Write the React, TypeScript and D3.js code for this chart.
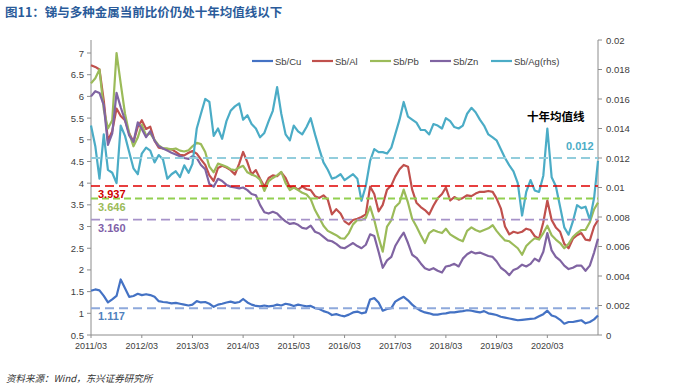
import React from "react";
import * as d3 from "d3";

const W = 700;
const H = 392;
const M = { left: 91, right: 598, top: 40, bottom: 335 };

// 月度读数, 2011/03 起
const startMonth = new Date(2011, 2, 1);

const sbCu = [
	1.52, 1.55, 1.53, 1.4, 1.25, 1.32, 1.4, 1.78, 1.58, 1.38, 1.4, 1.45, 1.42, 1.44, 1.42, 1.38, 1.28, 1.26, 1.25, 1.23,
	1.24, 1.22, 1.2, 1.18, 1.2, 1.28, 1.25, 1.26, 1.22, 1.15, 1.2, 1.22, 1.25, 1.27, 1.24, 1.26, 1.33, 1.25, 1.2, 1.17,
	1.16, 1.18, 1.16, 1.17, 1.2, 1.18, 1.22, 1.2, 1.17, 1.2, 1.18, 1.16, 1.17, 1.12, 1.1, 1.05, 1.02, 0.96, 0.98, 0.95,
	0.93, 0.97, 1.02, 1.04, 1.0, 1.02, 1.32, 1.35, 1.25, 1.06, 1.1, 1.12, 1.27, 1.33, 1.38, 1.3, 1.2, 1.12, 1.06, 1.02,
	1.0, 0.97, 0.97, 0.99, 1.0, 1.02, 1.02, 1.04, 1.05, 1.07, 1.06, 1.04, 1.02, 1.05, 1.0, 0.98, 0.96, 0.92, 0.9, 0.88,
	0.86, 0.84, 0.85, 0.86, 0.87, 0.88, 0.93, 0.98, 1.06, 0.95, 0.92, 0.85, 0.76, 0.8, 0.8, 0.82, 0.84, 0.77, 0.8, 0.86,
	0.95,
];

const sbAl = [
	6.72, 6.68, 6.62, 5.9, 4.98, 5.2, 5.72, 5.55, 5.45, 5.15, 4.95, 5.3, 5.45, 5.25, 5.3, 4.98, 4.82, 4.8, 4.78, 4.78,
	4.72, 4.65, 4.64, 4.7, 4.74, 4.68, 4.55, 4.42, 4.18, 4.05, 4.35, 4.4, 4.36, 4.3, 4.2, 4.45, 4.72, 4.48, 4.2, 4.3,
	4.1, 3.92, 4.12, 4.18, 4.16, 4.25, 4.12, 3.9, 3.92, 3.85, 3.92, 3.86, 3.84, 3.7, 3.66, 3.72, 3.62, 3.28, 3.4, 3.3,
	3.12, 3.05, 3.15, 3.18, 3.22, 3.28, 3.92, 3.75, 3.35, 3.5, 3.85, 3.95, 4.15, 4.32, 4.42, 4.38, 3.85, 3.55, 3.45, 3.38,
	3.28, 3.48, 3.65, 3.75, 3.9, 3.6, 3.68, 3.62, 3.66, 3.72, 3.7, 3.76, 3.8, 3.8, 3.82, 3.8, 3.65, 3.42, 3.0, 2.82,
	2.88, 2.85, 2.88, 2.95, 2.92, 2.78, 2.72, 3.1, 3.6, 3.15, 2.98, 2.88, 2.6, 2.5, 2.72, 2.8, 2.85, 2.7, 2.68, 3.0,
	3.15,
];

const sbPb = [
	6.3, 6.42, 6.62, 5.7, 5.26, 5.45, 7.0, 6.3, 5.6, 5.15, 4.85, 5.05, 5.35, 5.1, 5.15, 5.0, 4.87, 4.8, 4.8, 4.78,
	4.8, 4.75, 4.73, 4.76, 4.85, 4.93, 4.9, 4.72, 4.38, 4.25, 4.45, 4.42, 4.38, 4.32, 4.3, 4.36, 4.4, 4.25, 4.2, 4.16,
	4.08, 3.82, 4.05, 4.12, 4.18, 4.26, 4.0, 3.84, 3.9, 3.84, 3.78, 3.74, 3.63, 3.38, 3.2, 3.02, 2.9, 2.85, 2.8, 2.73,
	2.72, 2.85, 3.05, 3.15, 3.15, 3.2, 3.46, 3.15, 2.75, 2.42, 3.0, 3.15, 3.45, 3.55, 3.85, 3.55, 3.18, 3.0, 2.8, 2.62,
	2.85, 2.92, 2.88, 2.85, 2.95, 2.82, 2.76, 2.7, 2.66, 2.9, 2.98, 2.92, 2.88, 2.92, 2.96, 3.03, 2.9, 2.78, 2.68, 2.66,
	2.58, 2.5, 2.35, 2.55, 2.65, 2.73, 2.7, 2.85, 3.02, 2.8, 2.7, 2.62, 2.5, 2.6, 2.76, 2.85, 2.92, 2.92, 3.1, 3.4,
	3.55,
];

const sbZn = [
	6.0, 6.12, 6.08, 5.8, 4.88, 5.15, 6.08, 5.75, 5.45, 5.1, 4.95, 5.4, 5.25, 5.06, 5.2, 4.98, 4.85, 4.8, 4.75, 4.7,
	4.66, 4.62, 4.58, 4.56, 4.62, 4.58, 4.42, 4.32, 3.98, 3.92, 4.1, 4.05, 3.96, 3.92, 3.9, 3.88, 3.9, 3.84, 3.75, 3.72,
	3.5, 3.33, 3.3, 3.34, 3.3, 3.2, 3.12, 3.06, 3.08, 3.04, 2.97, 2.95, 3.02, 2.88, 2.84, 2.76, 2.68, 2.66, 2.6, 2.52,
	2.5, 2.56, 2.62, 2.55, 2.5, 2.58, 2.82, 2.78, 2.42, 2.05, 2.22, 2.3, 2.55, 2.72, 2.86, 2.62, 2.35, 2.28, 2.15, 2.04,
	2.0, 2.04, 1.98, 1.94, 2.08, 2.1, 2.14, 2.08, 2.26, 2.36, 2.42, 2.38, 2.4, 2.36, 2.32, 2.3, 2.2, 2.05, 1.98, 1.88,
	2.0, 2.04, 2.12, 2.08, 2.14, 2.26, 2.2, 2.42, 2.85, 2.45, 2.3, 2.22, 2.1, 2.02, 2.05, 2.1, 2.1, 1.98, 2.1, 2.4,
	2.72,
];

// 右轴
const sbAg = [
	0.0142, 0.0128, 0.0106, 0.0136, 0.0112, 0.011, 0.0103, 0.0142, 0.0135, 0.0124, 0.0113, 0.0109, 0.0123, 0.0127,
	0.0125, 0.0117, 0.0122, 0.0119, 0.0106, 0.0109, 0.0111, 0.0107, 0.0115, 0.011, 0.0116, 0.014, 0.015, 0.016, 0.0158,
	0.0135, 0.014, 0.0133, 0.0145, 0.0152, 0.0155, 0.0157, 0.0146, 0.0149, 0.0143, 0.014, 0.0134, 0.0137, 0.0145,
	0.0152, 0.0168, 0.015, 0.0136, 0.0132, 0.0142, 0.0138, 0.0136, 0.0141, 0.0147, 0.0136, 0.0126, 0.0117, 0.0112,
	0.0106, 0.0107, 0.0109, 0.0105, 0.0107, 0.0109, 0.0106, 0.0091, 0.0101, 0.0118, 0.0126, 0.0124, 0.0124, 0.0123,
	0.0127, 0.0136, 0.0146, 0.0158, 0.0148, 0.0146, 0.0144, 0.0139, 0.0139, 0.0136, 0.0143, 0.0142, 0.014, 0.0147,
	0.0145, 0.0141, 0.014, 0.0142, 0.015, 0.0154, 0.0151, 0.0146, 0.0142, 0.0136, 0.0134, 0.0132, 0.0126, 0.012,
	0.0115, 0.0111, 0.0103, 0.0081, 0.0097, 0.0105, 0.0098, 0.0097, 0.0108, 0.014, 0.0107, 0.0101, 0.0087, 0.0073,
	0.0068, 0.0077, 0.0088, 0.0086, 0.0087, 0.0078, 0.0093, 0.0118,
];

const seriesNames = ["Sb/Cu", "Sb/Al", "Sb/Pb", "Sb/Zn", "Sb/Ag(rhs)"];
const seriesColors = ["#4472C4", "#C0504D", "#9BBB59", "#8064A2", "#4BACC6"];

// 十年均值
const avgValues = [1.117, 3.937, 3.646, 3.16, 0.012];
const avgLabels = ["1.117", "3.937", "3.646", "3.160", "0.012"];
const avgColors = ["#8EA9DB", "#E00000", "#92D050", "#A692C9", "#92CDDC"];
const avgTextColors = ["#4F81BD", "#D00000", "#9BBB59", "#7F5FA8", "#4BACC6"];

const leftTicks = d3.range(0.5, 7.01, 0.5);
const rightTicks = d3.range(0, 0.0201, 0.002);
const xTickYears = d3.range(2011, 2021);

const font = "'Liberation Sans', Arial, sans-serif";

export default function App() {
	const dates = sbCu.map((_, i) => d3.timeMonth.offset(startMonth, i));
	const x = d3
		.scaleTime()
		.domain([startMonth, d3.timeMonth.offset(startMonth, 120)])
		.range([M.left, M.right]);
	const yL = d3.scaleLinear().domain([0.5, 7.3]).range([M.bottom, M.top]);
	const yR = d3.scaleLinear().domain([0, 0.02]).range([M.bottom, M.top]);

	const lineL = d3
		.line<number>()
		.x((_, i) => x(dates[i]))
		.y((d) => yL(d));
	const lineR = d3
		.line<number>()
		.x((_, i) => x(dates[i]))
		.y((d) => yR(d));

	const data = [sbCu, sbAl, sbPb, sbZn];
	const legendX = [252, 312, 370, 430, 491];

	return (
		<div style={{ position: "fixed", left: 0, top: 0 }}>
			<svg width={W} height={H} style={{ display: "block", background: "#fff" }} fontFamily={font}>
				<text x={5} y={17} fontSize={12.5} fontWeight="bold" fill="#2A5B9A" fontFamily="'Noto Sans CJK SC', sans-serif">
					图11：锑与多种金属当前比价仍处十年均值线以下
				</text>

				{/* legend */}
				{seriesNames.map((n, i) => (
					<g key={n}>
						<line x1={legendX[i]} x2={legendX[i] + 21} y1={61} y2={61} stroke={seriesColors[i]} strokeWidth={2.2} />
						<text x={legendX[i] + 23} y={64.5} fontSize={9.5} fill="#404040">
							{n}
						</text>
					</g>
				))}

				{/* axes */}
				<line x1={M.left} x2={M.left} y1={M.top} y2={M.bottom} stroke="#8c8c8c" />
				<line x1={M.right} x2={M.right} y1={M.top} y2={M.bottom} stroke="#8c8c8c" />
				<line x1={M.left} x2={M.right} y1={M.bottom} y2={M.bottom} stroke="#8c8c8c" />
				{leftTicks.map((t) => (
					<g key={"l" + t}>
						<line x1={M.left - 4} x2={M.left} y1={yL(t)} y2={yL(t)} stroke="#8c8c8c" />
						<text x={M.left - 7} y={yL(t) + 3.5} fontSize={9.5} textAnchor="end" fill="#404040">
							{d3.format("~g")(t)}
						</text>
					</g>
				))}
				{rightTicks.map((t) => (
					<g key={"r" + t}>
						<line x1={M.right} x2={M.right + 4} y1={yR(t)} y2={yR(t)} stroke="#8c8c8c" />
						<text x={M.right + 8} y={yR(t) + 3.5} fontSize={9.5} fill="#404040">
							{d3.format("~g")(+t.toFixed(3))}
						</text>
					</g>
				))}
				{xTickYears.map((yr) => {
					const px = x(new Date(yr, 2, 1));
					return (
						<g key={"x" + yr}>
							<line x1={px} x2={px} y1={M.bottom} y2={M.bottom + 3} stroke="#8c8c8c" />
							<text x={px} y={349} fontSize={9} textAnchor="middle" fill="#404040">
								{`${yr}/03`}
							</text>
						</g>
					);
				})}

				{/* series */}
				{data.map((s, i) => (
					<path key={seriesNames[i]} d={lineL(s) || ""} fill="none" stroke={seriesColors[i]} strokeWidth={2.2} strokeLinejoin="round" />
				))}
				<path d={lineR(sbAg) || ""} fill="none" stroke={seriesColors[4]} strokeWidth={2.2} strokeLinejoin="round" />

				{/* 均值线 */}
				{avgValues.map((v, i) => {
					const py = i === 4 ? yR(v) : yL(v);
					return (
						<line
							key={"avg" + i}
							x1={M.left}
							x2={M.right}
							y1={py}
							y2={py}
							stroke={avgColors[i]}
							strokeWidth={i === 1 ? 1.5 : 1.8}
							strokeDasharray={i === 2 ? "7,4" : "9,5"}
						/>
					);
				})}
				{avgLabels.map((lab, i) => {
					const py = i === 4 ? yR(avgValues[i]) : yL(avgValues[i]);
					const lx = i === 4 ? 566 : 98;
					const ly = i === 4 ? py - 8 : py + 12;
					return (
						<text key={"al" + i} x={lx} y={ly} fontSize={11} fontWeight="bold" fill={avgTextColors[i]}>
							{lab}
						</text>
					);
				})}
				<text x={527} y={121} fontSize={11.5} fontWeight="bold" fill="#000" fontFamily="'Noto Sans CJK SC', sans-serif">
					十年均值线
				</text>

				<text x={6} y={382} fontSize={9.5} fontStyle="italic" fill="#333" fontFamily="'Noto Sans CJK SC', sans-serif">
					资料来源：Wind，东兴证券研究所
				</text>
			</svg>
		</div>
	);
}
